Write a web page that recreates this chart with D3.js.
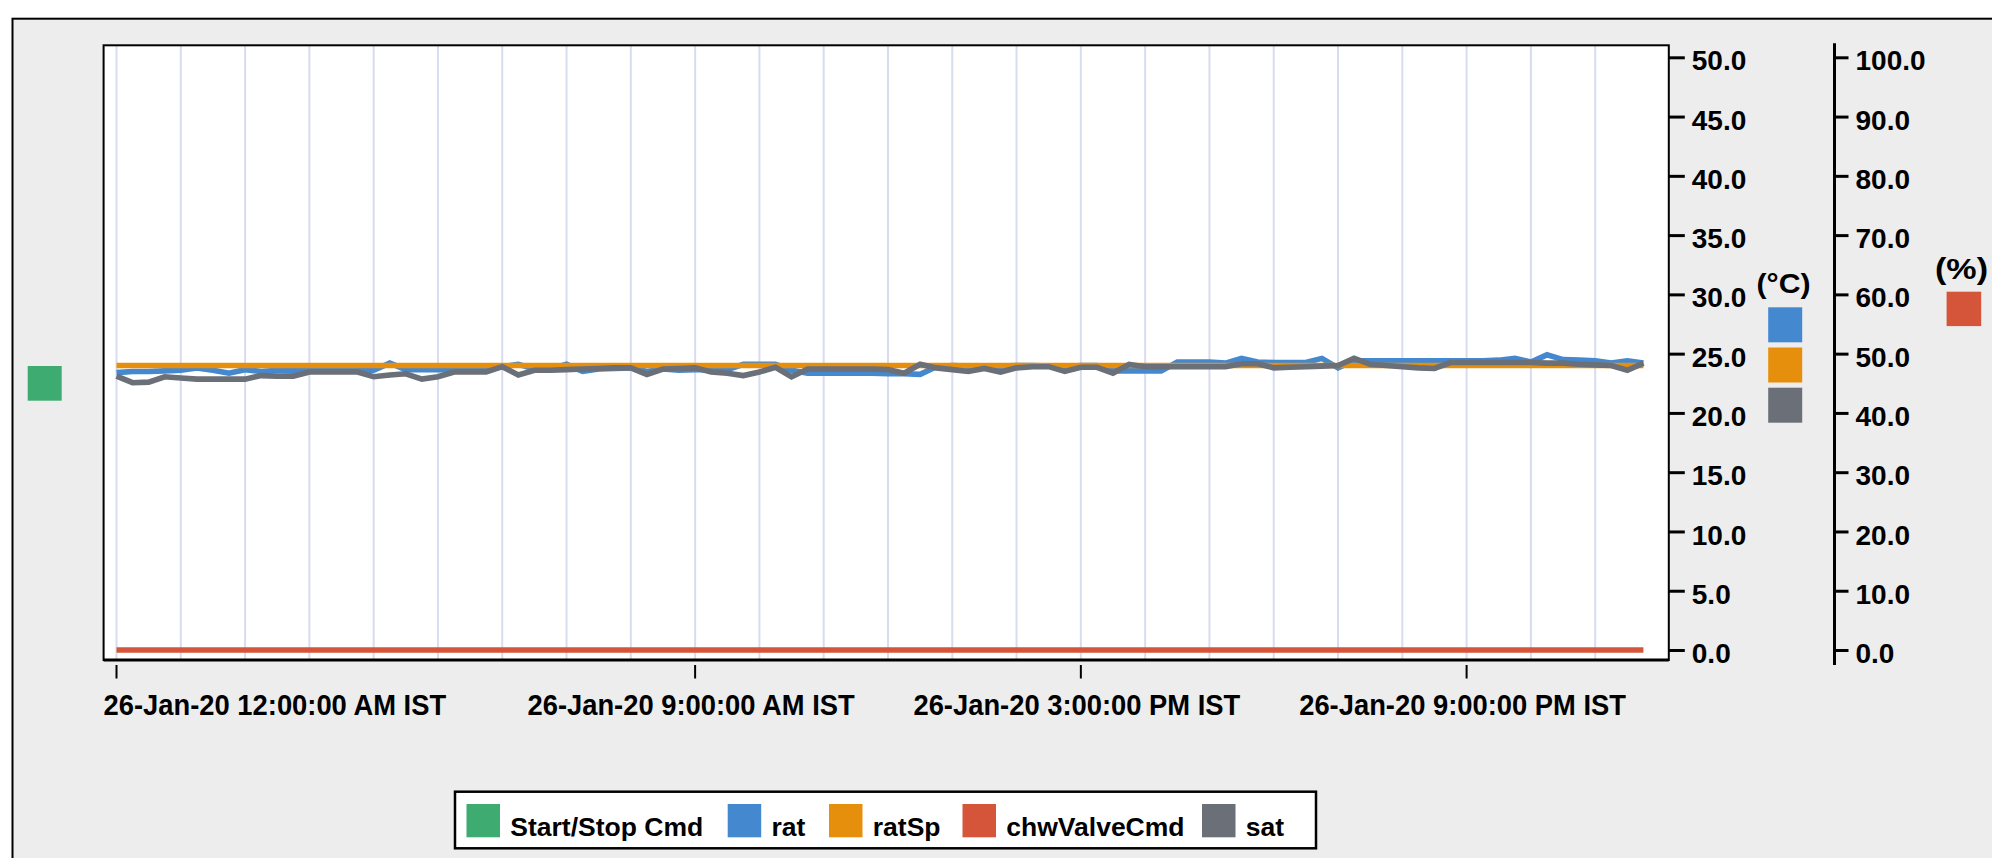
<!DOCTYPE html>
<html>
<head>
<meta charset="utf-8">
<script src="https://cdn.jsdelivr.net/npm/d3@7"></script>
<style>
  html, body { margin: 0; padding: 0; background: #ffffff; overflow: hidden; }
  svg { display: block; }
  text { font-family: "Liberation Sans", Arial, sans-serif; font-weight: bold; fill: #000; }
</style>
</head>
<body>
<svg id="chart" width="1992" height="858"></svg>
<script>
// ---------------- DATA ----------------
const seriesNames = ["Start/Stop Cmd", "rat", "ratSp", "chwValveCmd", "sat"];
const seriesColors = ["#3eab71", "#4488cf", "#e68f0c", "#d5553a", "#6a6f78"];
const dayStart = Date.UTC(2020, 0, 26, 0, 0);   // 26-Jan-20 12:00:00 AM IST
const stepMinutes = 15;

// rat (°C), 15-minute samples
const rat = [
  23.4, 23.5, 23.5, 23.55, 23.6, 23.8, 23.6, 23.35, 23.65, 23.5, 23.6, 23.55,
  23.55, 23.55, 23.55, 23.55, 23.6, 24.2, 23.65, 23.65, 23.65, 23.6, 23.6, 23.6,
  23.9, 24.1, 23.7, 23.7, 24.1, 23.5, 23.7, 23.75, 23.8, 23.5, 23.7, 23.6,
  23.65, 23.65, 23.65, 24.1, 24.1, 24.1, 23.6, 23.35, 23.35, 23.35, 23.35, 23.35,
  23.3, 23.3, 23.25, 23.9, 24.0, 23.95, 23.95, 23.95, 24.0, 24.0, 23.95, 23.9,
  24.0, 24.0, 23.55, 23.55, 23.55, 23.55, 24.3, 24.3, 24.3, 24.2, 24.6, 24.3,
  24.25, 24.25, 24.25, 24.6, 23.8, 24.4, 24.4, 24.4, 24.4, 24.4, 24.4, 24.4,
  24.4, 24.4, 24.45, 24.6, 24.3, 24.9, 24.5, 24.45, 24.4, 24.2, 24.4, 24.2
];
// ratSp (°C)
const ratSp = [
  24.0, 24.0, 24.0, 24.0, 24.0, 24.0, 24.0, 24.0, 24.0, 24.0, 24.0, 24.0,
  24.0, 24.0, 24.0, 24.0, 24.0, 24.0, 24.0, 24.0, 24.0, 24.0, 24.0, 24.0,
  24.0, 24.0, 24.0, 24.0, 24.0, 24.0, 24.0, 24.0, 24.0, 24.0, 24.0, 24.0,
  24.0, 24.0, 24.0, 24.0, 24.0, 24.0, 24.0, 24.0, 24.0, 24.0, 24.0, 24.0,
  24.0, 24.0, 24.0, 24.0, 24.0, 24.0, 24.0, 24.0, 24.0, 24.0, 24.0, 24.0,
  24.0, 24.0, 24.0, 24.0, 24.0, 24.0, 24.0, 24.0, 24.0, 24.0, 24.0, 24.0,
  24.0, 24.0, 24.0, 24.0, 24.0, 24.0, 24.0, 24.0, 24.0, 24.0, 24.0, 24.0,
  24.0, 24.0, 24.0, 24.0, 24.0, 24.0, 24.0, 24.0, 24.0, 24.0, 24.0, 24.0
];
// chwValveCmd (%)
const chwValveCmd = [
  0, 0, 0, 0, 0, 0, 0, 0, 0, 0, 0, 0, 0, 0, 0, 0, 0, 0, 0, 0, 0, 0, 0, 0,
  0, 0, 0, 0, 0, 0, 0, 0, 0, 0, 0, 0, 0, 0, 0, 0, 0, 0, 0, 0, 0, 0, 0, 0,
  0, 0, 0, 0, 0, 0, 0, 0, 0, 0, 0, 0, 0, 0, 0, 0, 0, 0, 0, 0, 0, 0, 0, 0,
  0, 0, 0, 0, 0, 0, 0, 0, 0, 0, 0, 0, 0, 0, 0, 0, 0, 0, 0, 0, 0, 0, 0, 0
];
// sat (°C)
const sat = [
  23.1, 22.55, 22.6, 23.05, 22.95, 22.85, 22.85, 22.85, 22.85, 23.15, 23.1, 23.1,
  23.45, 23.45, 23.45, 23.45, 23.05, 23.2, 23.3, 22.85, 23.05, 23.45, 23.45, 23.45,
  23.9, 23.2, 23.6, 23.6, 23.65, 23.7, 23.75, 23.8, 23.8, 23.25, 23.7, 23.75,
  23.8, 23.45, 23.35, 23.15, 23.45, 23.85, 23.05, 23.7, 23.7, 23.7, 23.7, 23.7,
  23.65, 23.35, 24.1, 23.8, 23.65, 23.5, 23.75, 23.45, 23.8, 23.9, 23.9, 23.5,
  23.85, 23.85, 23.35, 24.1, 23.9, 23.9, 23.9, 23.9, 23.9, 23.9, 24.15, 24.15,
  23.8, 23.85, 23.9, 23.95, 24.0, 24.6, 24.1, 24.0, 23.9, 23.8, 23.75, 24.25,
  24.25, 24.25, 24.25, 24.25, 24.25, 24.2, 24.2, 24.1, 24.05, 24.0, 23.6, 24.2
];
const xTickHours = [0, 9, 15, 21];
const tempTicks = [0, 5, 10, 15, 20, 25, 30, 35, 40, 45, 50];
const pctTicks = [0, 10, 20, 30, 40, 50, 60, 70, 80, 90, 100];
const tempUnit = "(°C)";
const pctUnit = "(%)";

// ---------------- LAYOUT ----------------
const svg = d3.select("#chart");
const plot = { left: 103.6, top: 45.3, right: 1668.8, bottom: 660 };

const times = rat.map((_, i) => new Date(dayStart + i * stepMinutes * 60000));
const x = d3.scaleUtc()
  .domain([times[0], times[times.length - 1]])
  .range([116.5, 1643.4]);
const yT = d3.scaleLinear().domain([0, 50]).range([650, 57.3]);
const yP = d3.scaleLinear().domain([0, 100]).range([650, 57.3]);

// outer panel
svg.append("rect").attr("x", 12.5).attr("y", 18.7).attr("width", 2100).attr("height", 1000)
  .attr("fill", "#ededed").attr("stroke", "#000").attr("stroke-width", 2);

// plot area
svg.append("rect").attr("x", plot.left).attr("y", plot.top)
  .attr("width", plot.right - plot.left).attr("height", plot.bottom - plot.top)
  .attr("fill", "#fff");

// vertical gridlines, hourly
const hourTicks = x.ticks(d3.utcHour.every(1));
svg.append("g").selectAll("line").data(hourTicks).join("line")
  .attr("x1", d => x(d)).attr("x2", d => x(d))
  .attr("y1", plot.top).attr("y2", plot.bottom)
  .attr("stroke", "#d8dcef").attr("stroke-width", 2);

// series lines
const lineT = vals => d3.line().x((d, i) => x(times[i])).y(d => yT(d))(vals);
const lineP = vals => d3.line().x((d, i) => x(times[i])).y(d => yP(d))(vals);
const drawn = [
  { path: lineT(rat), color: seriesColors[1] },
  { path: lineT(ratSp), color: seriesColors[2] },
  { path: lineP(chwValveCmd), color: seriesColors[3] },
  { path: lineT(sat), color: seriesColors[4] }
];
svg.append("g").selectAll("path").data(drawn).join("path")
  .attr("d", d => d.path).attr("fill", "none")
  .attr("stroke", d => d.color).attr("stroke-width", 5.6)
  .attr("stroke-linejoin", "miter");

// plot border
svg.append("rect").attr("x", plot.left).attr("y", plot.top)
  .attr("width", plot.right - plot.left).attr("height", plot.bottom - plot.top)
  .attr("fill", "none").attr("stroke", "#000").attr("stroke-width", 2);
svg.append("line").attr("x1", plot.left).attr("x2", plot.right)
  .attr("y1", plot.bottom).attr("y2", plot.bottom)
  .attr("stroke", "#000").attr("stroke-width", 3);

// x axis ticks & labels
const fmt = d3.utcFormat("%d-%b-%y %-I:%M:%S %p IST");
const xTickDates = xTickHours.map(h => new Date(dayStart + h * 3600000));
const xg = svg.append("g");
xg.selectAll("line").data(xTickDates).join("line")
  .attr("x1", d => x(d)).attr("x2", d => x(d))
  .attr("y1", 665).attr("y2", 678.5)
  .attr("stroke", "#000").attr("stroke-width", 2);
xg.selectAll("text").data(xTickDates).join("text")
  .attr("y", 714.5).attr("font-size", 29.5)
  .text(d => fmt(d))
  .each(function(d) {
    const w = this.getComputedTextLength() * 0.927;
    this.setAttribute("textLength", w);
    this.setAttribute("lengthAdjust", "spacingAndGlyphs");
    const cx = x(d) - 4;
    this.setAttribute("x", Math.max(plot.left, cx - w / 2));
  });

// right temperature axis
const axT = d3.axisRight(yT).tickValues(tempTicks).tickFormat(d3.format(".1f"))
  .tickSize(16).tickPadding(7);
const gT = svg.append("g").attr("transform", `translate(${plot.right},0)`).call(axT);
gT.select(".domain").remove();
gT.selectAll(".tick line").attr("stroke", "#000").attr("stroke-width", 3);
gT.selectAll(".tick text").attr("font-size", 28).attr("font-family", null)
  .attr("dy", "0.45em");

// right percent axis
const axisX2 = 1834.5;
const axP = d3.axisRight(yP).tickValues(pctTicks).tickFormat(d3.format(".1f"))
  .tickSize(14).tickPadding(7);
const gP = svg.append("g").attr("transform", `translate(${axisX2},0)`).call(axP);
gP.select(".domain").remove();
gP.append("line").attr("x1", 0).attr("x2", 0)
  .attr("y1", yP(100) - 14).attr("y2", yP(0) + 15)
  .attr("stroke", "#000").attr("stroke-width", 3);
gP.selectAll(".tick line").attr("stroke", "#000").attr("stroke-width", 3);
gP.selectAll(".tick text").attr("font-size", 28).attr("font-family", null)
  .attr("dy", "0.45em");
svg.selectAll(".tick text").attr("fill", "#000");

// unit labels and swatches
svg.append("text").attr("x", 1756.5).attr("y", 292.5).attr("font-size", 28)
  .attr("textLength", 54).attr("lengthAdjust", "spacingAndGlyphs").text(tempUnit);
[1, 2, 4].forEach((si, k) => {
  svg.append("rect").attr("x", 1768.2).attr("y", 307.3 + k * 40.2)
    .attr("width", 34).attr("height", 35).attr("fill", seriesColors[si]);
});
svg.append("text").attr("x", 1935).attr("y", 279).attr("font-size", 30)
  .attr("textLength", 53).attr("lengthAdjust", "spacingAndGlyphs").text(pctUnit);
svg.append("rect").attr("x", 1946.6).attr("y", 291.7).attr("width", 34.6).attr("height", 34.4)
  .attr("fill", seriesColors[3]);
// left axis swatch (Start/Stop Cmd)
svg.append("rect").attr("x", 27.7).attr("y", 366).attr("width", 34).attr("height", 34.7)
  .attr("fill", seriesColors[0]);

// legend
const legendSwatchX = [466.5, 727.7, 829, 962.5, 1202];
const lg = svg.append("g");
lg.append("rect").attr("x", 455).attr("y", 791.7).attr("width", 861).attr("height", 56.6)
  .attr("fill", "#fff").attr("stroke", "#000").attr("stroke-width", 2.5);
seriesNames.forEach((n, i) => {
  lg.append("rect").attr("x", legendSwatchX[i]).attr("y", 804)
    .attr("width", 33.5).attr("height", 33.3).attr("fill", seriesColors[i]);
  lg.append("text").attr("x", legendSwatchX[i] + 43.8).attr("y", 836)
    .attr("font-size", 26.5).text(n);
});
</script>
</body>
</html>
